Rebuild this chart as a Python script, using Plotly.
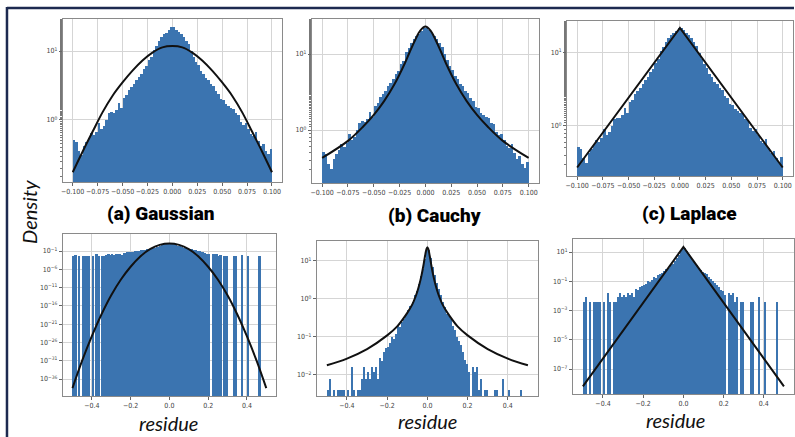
import plotly.graph_objects as go

# ---------------- data ----------------
# zoomed residue histogram (density), 80 bins over [-0.1, 0.1]
top_edges_start = -0.1
top_bin_width = 0.0025
top_density = [0.52, 0.48, 0.36, 0.31, 0.42, 0.48, 0.55, 0.65, 0.60, 0.68,
               0.90, 0.75, 0.82, 1.0, 1.25, 1.3, 1.28, 1.4, 1.75, 1.5,
               2.1, 2.3, 2.7, 3.0, 3.3, 3.8, 4.2, 4.7, 5.5, 6.0,
               7.4, 8.2, 10.5, 12.0, 14.0, 16.0, 17.5, 18.5, 20.0, 22.0,
               22.0, 20.5, 19.0, 17.5, 16.0, 14.0, 12.5, 10.0, 8.3, 7.0,
               6.2, 5.2, 4.7, 4.0, 3.8, 3.3, 3.1, 2.6, 2.4, 2.0,
               1.95, 1.7, 1.6, 1.5, 1.45, 1.25, 1.2, 0.95, 0.85, 0.9,
               0.75, 0.62, 0.58, 0.66, 0.50, 0.42, 0.45, 0.36, 0.32, 0.38]

# full residue histogram (density), 100 bins over [-0.5, 0.5]; None = empty bin
res_bin_width = 0.01
res_density = [0.004, 0.008, None, 0.004, None, 0.004, 0.004, 0.004, 0.004, None,
               0.004, None, 0.016, 0.004, None, 0.004, 0.004, 0.008, 0.016, 0.008,
               0.012, 0.008, 0.016, 0.012, 0.016, 0.008, 0.028, 0.024, 0.04, 0.05,
               0.055, 0.07, 0.1, 0.09, 0.12, 0.2, 0.18, 0.25, 0.3, 0.38,
               0.5, 0.65, 0.85, 1.3, 1.6, 2.5, 4.0, 6.3, 11.0, 19.0,
               20.0, 12.0, 6.8, 4.2, 2.6, 1.8, 1.3, 0.85, 0.6, 0.4,
               0.35, 0.3, 0.2, 0.15, 0.1, 0.08, 0.06, 0.04, 0.025, 0.02,
               0.012, None, 0.016, 0.012, 0.016, 0.004, 0.008, None, 0.004, 0.004,
               None, None, None, 0.004, 0.004, None, None, 0.008, None, None,
               0.004, None, None, None, None, None, 0.004, None, None, None]

# fitted Gaussian (zoomed panel)
gauss_top_x = [-0.1, -0.09, -0.08, -0.07, -0.06, -0.05, -0.04, -0.03, -0.02, -0.01, 0.0,
               0.01, 0.02, 0.03, 0.04, 0.05, 0.06, 0.07, 0.08, 0.09, 0.1]
gauss_top_y = [0.175, 0.35, 0.68, 1.3, 2.25, 3.5, 5.2, 7.3, 9.5, 11.3, 11.8,
               11.3, 9.5, 7.3, 5.2, 3.5, 2.25, 1.3, 0.68, 0.35, 0.175]
# fitted Gaussian (full panel)
gauss_bot_x = [-0.5, -0.45, -0.4, -0.35, -0.3, -0.25, -0.2, -0.15, -0.1, -0.05, 0.0,
               0.05, 0.1, 0.15, 0.2, 0.25, 0.3, 0.35, 0.4, 0.45, 0.5]
gauss_bot_y = [3.2e-39, 1e-31, 5e-25, 5e-19, 8e-14, 1.6e-9, 5e-6, 3.2e-3, 0.32, 4.8, 11.8,
               4.8, 0.32, 3.2e-3, 5e-6, 1.6e-9, 8e-14, 5e-19, 5e-25, 1e-31, 3.2e-39]

# fitted Cauchy
cauchy_x = [-0.5, -0.4, -0.3, -0.2, -0.15, -0.1, -0.075, -0.06, -0.05, -0.04, -0.03, -0.02,
            -0.015, -0.01, -0.005, 0.0, 0.005, 0.01, 0.015, 0.02, 0.03, 0.04, 0.05, 0.06,
            0.075, 0.1, 0.15, 0.2, 0.3, 0.4, 0.5]
cauchy_y = [0.018, 0.027, 0.048, 0.11, 0.19, 0.43, 0.72, 1.12, 1.58, 2.4, 4.0, 7.5,
            10.8, 15.2, 20.3, 23.0, 20.3, 15.2, 10.8, 7.5, 4.0, 2.4, 1.58, 1.12,
            0.72, 0.43, 0.19, 0.11, 0.048, 0.027, 0.018]

# fitted Laplace
laplace_x = [-0.5, -0.1, 0.0, 0.1, 0.5]
laplace_y = [6.5e-9, 0.27, 22.0, 0.27, 6.5e-9]

top_xticks = [-0.1, -0.075, -0.05, -0.025, 0.0, 0.025, 0.05, 0.075, 0.1]
top_xticktext = ["\u22120.100", "\u22120.075", "\u22120.050", "\u22120.025", "0.000",
                 "0.025", "0.050", "0.075", "0.100"]
bot_xticks = [-0.4, -0.2, 0.0, 0.2, 0.4]
bot_xticktext = ["\u22120.4", "\u22120.2", "0.0", "0.2", "0.4"]

titles = ["(a) Gaussian", "(b) Cauchy", "(c) Laplace"]

# ---------------- figure ----------------
W, H = 795, 437
BAR = "#3b74b0"
top_centers = [top_edges_start + top_bin_width * (i + 0.5) for i in range(len(top_density))]
res_centers = [-0.5 + res_bin_width * (i + 0.5) for i in range(len(res_density))]

fig = go.Figure()

def px_dom(a, b):
    return [a / W, b / W]

def py_dom(top, bottom):
    return [1 - bottom / H, 1 - top / H]

panels = [
    ((61, 281), (19, 182), [-0.11, 0.11], [-0.899, 1.464], top_xticks, top_xticktext, [0, 1]),
    ((311, 539), (19, 183), [-0.11, 0.11], [-0.697, 1.461], top_xticks, top_xticktext, [0, 1]),
    ((567, 794), (21, 176), [-0.11, 0.11], [-0.685, 1.438], top_xticks, top_xticktext, [0, 1]),
    ((61, 275), (234, 396), [-0.55, 0.55], [-40.65, 3.65], bot_xticks, bot_xticktext,
     [-1, -6, -11, -16, -21, -26, -31, -36]),
    ((316, 538), (241, 396), [-0.55, 0.55], [-2.553, 1.526], bot_xticks, bot_xticktext,
     [1, 0, -1, -2]),
    ((573, 795), (239, 394), [-0.55, 0.55], [-8.709, 1.889], bot_xticks, bot_xticktext,
     [1, -1, -3, -5, -7]),
]

def sup(e):
    s = str(e).replace("-", "\u2212")
    return "10<sup>" + s + "</sup>"

curves = [
    (gauss_top_x, gauss_top_y, "spline"),
    ([x for x in cauchy_x if abs(x) <= 0.1], [y for x, y in zip(cauchy_x, cauchy_y) if abs(x) <= 0.1], "spline"),
    ([x for x in laplace_x if abs(x) <= 0.1], [y for x, y in zip(laplace_x, laplace_y) if abs(x) <= 0.1], "linear"),
    (gauss_bot_x, gauss_bot_y, "spline"),
    (cauchy_x, cauchy_y, "spline"),
    (laplace_x, laplace_y, "linear"),
]

tickfont = dict(family="DejaVu Sans Condensed, DejaVu Sans", size=7, color="#444444")
for i, (xd, yd, xr, yr, xt, xtt, yt) in enumerate(panels):
    n = "" if i == 0 else str(i + 1)
    xa, ya = "x" + n, "y" + n
    if i < 3:
        fig.add_trace(go.Bar(x=top_centers, y=top_density, width=top_bin_width,
                             marker=dict(color=BAR, line=dict(width=0)),
                             xaxis=xa, yaxis=ya, showlegend=False))
    else:
        fig.add_trace(go.Bar(x=res_centers, y=res_density, width=res_bin_width,
                             marker=dict(color=BAR, line=dict(width=0)),
                             xaxis=xa, yaxis=ya, showlegend=False))
    cx, cy, shp = curves[i]
    fig.add_trace(go.Scatter(x=cx, y=cy, mode="lines",
                             line=dict(color="#111111", width=2, shape=shp),
                             xaxis=xa, yaxis=ya, showlegend=False))
    fig.layout["xaxis" + n] = dict(
        domain=px_dom(*xd), anchor=ya, range=xr,
        tickvals=xt, ticktext=xtt, tickfont=tickfont, tickangle=0,
        ticks="outside", ticklen=3, tickcolor="#666666",
        showgrid=True, gridcolor="#d5d5d5", gridwidth=1,
        showline=True, linecolor="#8a8a8a", linewidth=1, mirror=True, zeroline=False)
    yax = dict(
        domain=py_dom(*yd), anchor=xa, type="log", range=yr,
        tickvals=[10.0 ** e for e in yt], ticktext=[sup(e) for e in yt], tickfont=tickfont,
        ticks="outside", ticklen=3, tickcolor="#666666",
        showgrid=True, gridcolor="#d5d5d5", gridwidth=1,
        showline=True, linecolor="#8a8a8a", linewidth=1, mirror=True, zeroline=False)
    if i < 3:
        yax["minor"] = dict(ticks="outside", ticklen=2, tickcolor="#777777", showgrid=False)
    fig.layout["yaxis" + n] = yax

ann = []
title_pos = [(160, 213), (434, 215), (690, 213)]
for t, (x, y) in zip(titles, title_pos):
    ann.append(dict(text=t, x=x / W, y=1 - y / H, xref="paper", yref="paper",
                    showarrow=False, xanchor="center", yanchor="middle",
                    font=dict(family="Roboto, Liberation Sans Narrow, sans-serif",
                              size=19, weight=900, color="#000000")))
for x, y in [(167, 423), (427, 421), (676, 420)]:
    ann.append(dict(text="<i>residue</i>", x=x / W, y=1 - y / H, xref="paper", yref="paper",
                    showarrow=False, xanchor="center", yanchor="middle",
                    font=dict(family="Lato, Open Sans, sans-serif", size=20, color="#111111")))
ann.append(dict(text="<i>Density</i>", x=27 / W, y=1 - 212 / H, xref="paper", yref="paper",
                showarrow=False, xanchor="center", yanchor="middle", textangle=-90,
                font=dict(family="Lato, Open Sans, sans-serif", size=20, color="#111111")))

shapes = [
    dict(type="line", xref="paper", yref="paper", x0=5 / W, x1=1, y0=1 - 8 / H, y1=1 - 8 / H,
         line=dict(color="#1d2a50", width=2.5)),
    dict(type="line", xref="paper", yref="paper", x0=5 / W, x1=5 / W, y0=0, y1=1 - 7 / H,
         line=dict(color="#1d2a50", width=2.5)),
]

fig.update_layout(width=W, height=H, margin=dict(l=0, r=0, t=0, b=0),
                  paper_bgcolor="white", plot_bgcolor="white",
                  bargap=0, annotations=ann, shapes=shapes, showlegend=False)

fig.write_html("out.html", config={"displayModeBar": False},
               post_script="document.body.style.margin='0';document.body.style.padding='0';"
                           "document.body.style.overflow='hidden';")
